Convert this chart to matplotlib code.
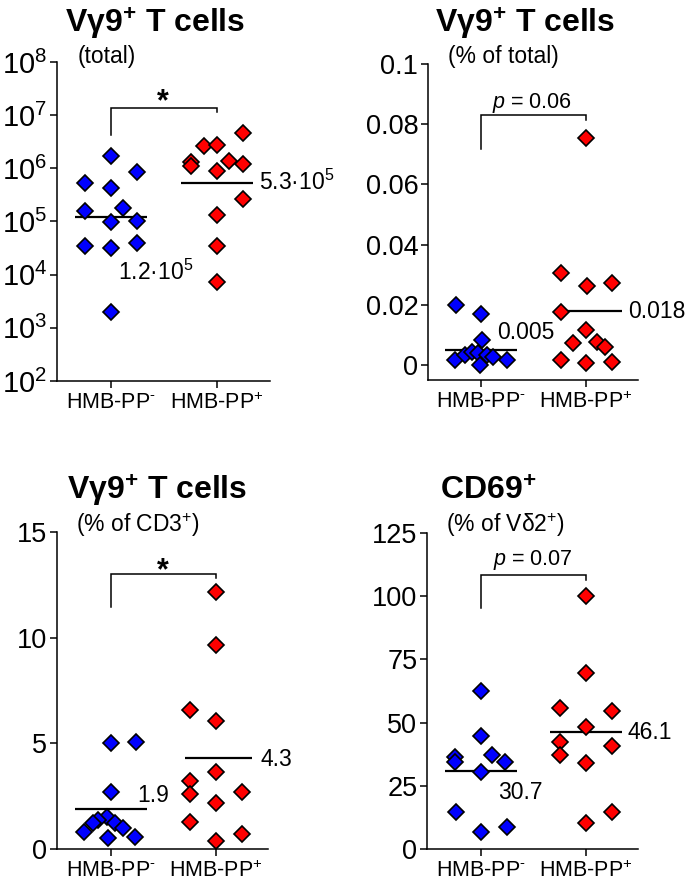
import matplotlib
matplotlib.use('Agg')
import matplotlib.pyplot as plt
from matplotlib.ticker import FixedLocator, NullLocator, LogLocator, LogFormatterSciNotation

plt.rcParams['font.family'] = ['Liberation Sans', 'DejaVu Sans']
plt.rcParams['mathtext.fontset'] = 'custom'
plt.rcParams['mathtext.rm'] = 'Liberation Sans'
plt.rcParams['mathtext.it'] = 'Liberation Sans:italic'
plt.rcParams['mathtext.bf'] = 'Liberation Sans:bold'

W, H = 695, 891
groups = ['HMB-PP$^{\\text{-}}$', 'HMB-PP$^{+}$']

# ---- Panel A: Vg9+ T cells (total), log scale
a_neg = [1.7e6, 5.2e5, 4.2e5, 8.4e5, 1.6e5, 1.8e5, 9.6e4, 1.0e5, 3.4e4, 3.2e4, 4.0e4, 2.0e3]
a_neg_jit = [0, -0.245, 0, 0.245, -0.245, 0.115, 0, 0.245, -0.245, 0, 0.245, 0]
a_pos = [4.6e6, 2.6e6, 2.7e6, 1.3e6, 1.1e6, 1.4e6, 1.2e6, 8.8e5, 2.6e5, 1.3e5, 3.5e4, 7.4e3]
a_pos_jit = [0.245, -0.12, 0, -0.245, -0.245, 0.115, 0.245, 0, 0.245, 0, 0, 0]
a_center = [1.2e5, 5.3e5]
a_center_labels = ['1.2·10$^{5}$', '5.3·10$^{5}$']
a_sig = '*'

# ---- Panel B: Vg9+ T cells (% of total)
b_neg = [0.020, 0.017, 0.0083, 0.0015, 0.0033, 0.0043, 0.004, 0.0, 0.0033, 0.0027, 0.0017]
b_neg_jit = [-0.24, 0, 0.01, -0.25, -0.15, -0.09, -0.03, -0.01, 0.06, 0.11, 0.25]
b_pos = [0.0753, 0.0307, 0.0263, 0.0273, 0.0177, 0.0117, 0.0073, 0.0077, 0.006, 0.0017, 0.0007, 0.001]
b_pos_jit = [0, -0.24, 0.01, 0.25, -0.24, 0, -0.12, 0.10, 0.18, -0.24, 0, 0.25]
b_center = [0.005, 0.018]
b_center_labels = ['0.005', '0.018']
b_ticks = [0, 0.02, 0.04, 0.06, 0.08, 0.1]
b_ticklabels = ['0', '0.02', '0.04', '0.06', '0.08', '0.1']
b_sig = '$p$ = 0.06'

# ---- Panel C: Vg9+ T cells (% of CD3+)
c_neg = [5.0, 5.05, 2.7, 1.5, 1.37, 1.23, 1.23, 1.0, 0.8, 0.52, 0.57]
c_neg_jit = [0, 0.24, 0, -0.04, -0.12, -0.17, 0.04, 0.11, -0.26, -0.03, 0.23]
c_pos = [12.17, 9.67, 6.6, 6.04, 3.63, 3.2, 2.6, 2.7, 2.2, 1.3, 0.7, 0.38]
c_pos_jit = [0, 0, -0.25, 0, 0, -0.25, -0.25, 0.25, 0, -0.25, 0.25, 0]
c_center = [1.9, 4.3]
c_center_labels = ['1.9', '4.3']
c_ticks = [0, 5, 10, 15]
c_ticklabels = ['0', '5', '10', '15']
c_sig = '*'

# ---- Panel D: CD69+ (% of Vd2+)
d_neg = [62.5, 44.7, 36.4, 34.4, 37.2, 34.4, 30.5, 14.6, 6.7, 8.7]
d_neg_jit = [0, 0, -0.25, -0.25, 0.10, 0.23, 0, -0.24, 0, 0.25]
d_pos = [100, 69.6, 55.8, 54.6, 48.3, 42.3, 40.7, 37.2, 34, 14.6, 10.3]
d_pos_jit = [0, 0, -0.25, 0.25, 0, -0.25, 0.25, -0.25, 0, 0.25, 0]
d_center = [30.7, 46.1]
d_center_labels = ['30.7', '46.1']
d_ticks = [0, 25, 50, 75, 100, 125]
d_ticklabels = ['0', '25', '50', '75', '100', '125']
d_sig = '$p$ = 0.07'

BLUE = '#0000ff'
RED = '#ff0000'

fig = plt.figure(figsize=(W / 100, H / 100), dpi=100)


def make_ax(left, top, right, bottom, cat0, cat1):
    ax = fig.add_axes([left / W, 1 - bottom / H, (right - left) / W, (bottom - top) / H])
    sp = cat1 - cat0
    ax.set_xlim((left - cat0) / sp, (right - cat0) / sp)
    for s in ['top', 'right']:
        ax.spines[s].set_visible(False)
    for s in ['left', 'bottom']:
        ax.spines[s].set_linewidth(1.1)
    ax.set_xticks([0, 1])
    ax.set_xticklabels(groups, fontsize=15.5)
    ax.tick_params(axis='x', length=5, width=1.1, pad=3)
    ax.tick_params(axis='y', length=5, width=1.1, pad=2, labelsize=19.5)
    ax.patch.set_visible(False)
    return ax


def draw(ax, neg, neg_jit, pos, pos_jit, center, center_labels, lab_pos, line_left=(-0.34, -0.34)):
    for i, (vals, jit, col) in enumerate([(neg, neg_jit, BLUE), (pos, pos_jit, RED)]):
        ax.plot([i + line_left[i], i + 0.34], [center[i], center[i]], color='black', lw=1.6,
                zorder=2, solid_capstyle='butt')
        ax.plot([i + j for j in jit], vals, linestyle='none', marker='D', ms=8.2,
                mfc=col, mec='black', mew=1.2, zorder=3, clip_on=False)
        lx, ly = lab_pos[i]
        ax.text(lx, ly, center_labels[i], fontsize=16.5, ha='left', va='center', zorder=4)


def bracket(ax, top, left_bot, right_bot, label, label_y, fs, bold=False):
    ax.plot([0, 0, 1, 1], [left_bot, top, top, right_bot], color='black', lw=1.1,
            clip_on=False, solid_joinstyle='miter')
    ax.text(0.49, label_y, label, ha='center', va='baseline', fontsize=fs,
            fontweight='bold' if bold else 'normal')


# Panel A
axA = make_ax(57, 62, 270, 381, 111, 217)
axA.set_yscale('log')
axA.set_ylim(1e2, 1e8)
axA.yaxis.set_major_locator(LogLocator(base=10, numticks=10))
axA.yaxis.set_major_formatter(LogFormatterSciNotation())
axA.yaxis.set_minor_locator(NullLocator())
axA.tick_params(axis='y', labelsize=21)
draw(axA, a_neg, a_neg_jit, a_pos, a_pos_jit, a_center, a_center_labels,
     [(0.07, 1.1e4), (1.40, 5.5e5)])
bracket(axA, 1.35e7, 4.2e6, 1.15e7, a_sig, 1.25e7, 22, bold=True)

# Panel B
axB = make_ax(428, 64, 638, 380, 481, 586)
axB.set_ylim(-0.005, 0.1)
axB.yaxis.set_major_locator(FixedLocator(b_ticks))
axB.set_yticklabels(b_ticklabels)
draw(axB, b_neg, b_neg_jit, b_pos, b_pos_jit, b_center, b_center_labels,
     [(0.15, 0.0107), (1.40, 0.0177)], line_left=(-0.34, -0.24))
bracket(axB, 0.083, 0.0717, 0.0815, b_sig, 0.0855, 15.5)

# Panel C
axC = make_ax(57, 532, 268, 849, 111, 216)
axC.set_ylim(0, 15)
axC.yaxis.set_major_locator(FixedLocator(c_ticks))
axC.set_yticklabels(c_ticklabels)
draw(axC, c_neg, c_neg_jit, c_pos, c_pos_jit, c_center, c_center_labels,
     [(0.25, 2.55), (1.42, 4.25)], line_left=(-0.34, -0.30))
bracket(axC, 13.0, 11.46, 12.8, c_sig, 12.75, 22, bold=True)

# Panel D
axD = make_ax(427, 533, 638, 849, 481, 586)
axD.set_ylim(0, 125)
axD.yaxis.set_major_locator(FixedLocator(d_ticks))
axD.set_yticklabels(d_ticklabels)
draw(axD, d_neg, d_neg_jit, d_pos, d_pos_jit, d_center, d_center_labels,
     [(0.16, 22.5), (1.40, 46.1)])
bracket(axD, 108.4, 95.3, 106.4, d_sig, 112.5, 15.5)

# Titles and subtitles
titles = ['Vγ9$^{\\mathbf{+}}$ T cells', 'Vγ9$^{\\mathbf{+}}$ T cells',
          'Vγ9$^{\\mathbf{+}}$ T cells', 'CD69$^{\\mathbf{+}}$']
subtitles = ['(total)', '(% of total)', '(% of CD3$^{+}$)', '(% of Vδ2$^{+}$)']
title_pos = [(155, 33), (525, 33), (157, 500), (488, 500)]
sub_pos = [(107, 57), (503, 57), (138, 525), (505, 525)]
for t, (x, y) in zip(titles, title_pos):
    fig.text(x / W, 1 - y / H, t, ha='center', va='baseline', fontsize=23, fontweight='bold')
for t, (x, y) in zip(subtitles, sub_pos):
    fig.text(x / W, 1 - y / H, t, ha='center', va='center', fontsize=16.5)

fig.savefig('out.png', dpi=100)
